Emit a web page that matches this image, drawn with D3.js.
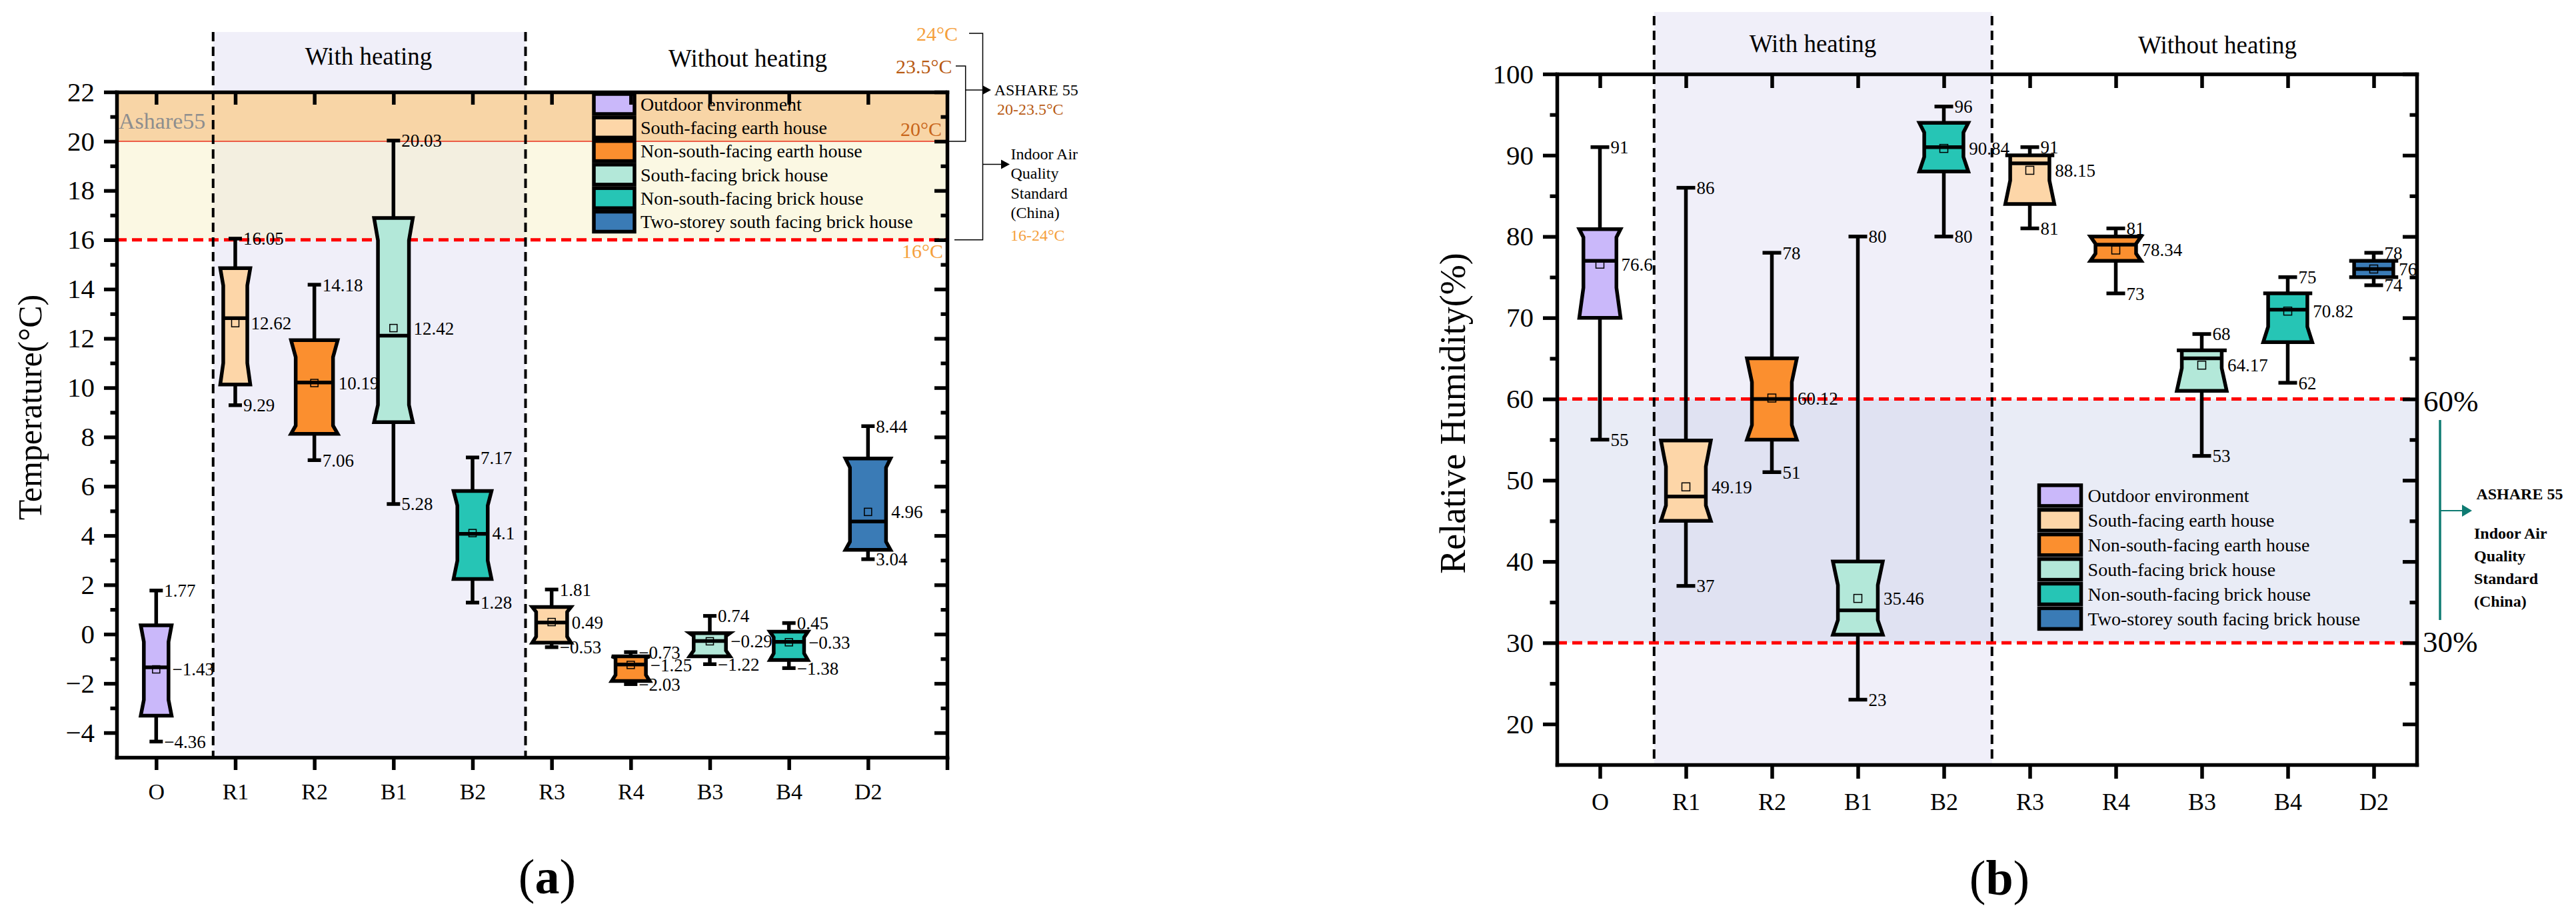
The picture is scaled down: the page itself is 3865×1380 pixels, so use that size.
<!DOCTYPE html>
<html><head><meta charset="utf-8">
<script src="https://cdn.jsdelivr.net/npm/d3@7"></script>
<style>
body{margin:0;background:#fff;}
svg{display:block;font-family:"Liberation Serif","Times New Roman",serif;}
text{font-family:"Liberation Serif","Times New Roman",serif;}
</style></head><body>
<svg id="c" width="3865" height="1380"></svg>
<script>
// ---------- data ----------
const categories = ["O","R1","R2","B1","B2","R3","R4","B3","B4","D2"];
const seriesNames = ["Outdoor environment","South-facing earth house","Non-south-facing earth house","South-facing brick house","Non-south-facing brick house","Two-storey south facing brick house"];
const categorySeries = [0,1,2,3,4,1,2,3,4,5];
const seriesColors = ["#CAB8FA","#FDD6A8","#FB8F2F","#B3E8D9","#26C5B5","#3A7BB6"];

// (a) Temperature (°C)
const tempMax     = [1.77,16.05,14.18,20.03,7.17,1.81,-0.73,0.74,0.45,8.44];
const tempQ3      = [0.36,14.85,11.93,16.89,5.81,1.10,-0.90,0.04,0.10,7.13];
const tempNotchHi = [-0.31,14.15,11.24,15.98,5.22,0.90,-0.97,-0.08,-0.13,6.76];
const tempMedian  = [-1.35,12.82,10.21,12.11,4.07,0.47,-1.23,-0.28,-0.31,4.57];
const tempNotchLo = [-2.67,11.0,8.46,9.3,2.98,-0.10,-1.66,-0.67,-0.78,3.75];
const tempQ1      = [-3.31,10.13,8.13,8.6,2.24,-0.35,-1.90,-0.90,-1.05,3.42];
const tempMin     = [-4.36,9.29,7.06,5.28,1.28,-0.53,-2.03,-1.22,-1.38,3.04];
const tempMean    = [-1.43,12.62,10.19,12.42,4.1,0.49,-1.25,-0.29,-0.33,4.96];
const tempMajorTicks = [-4,-2,0,2,4,6,8,10,12,14,16,18,20,22];
const tempMinorTicks = [-3,-1,1,3,5,7,9,11,13,15,17,19,21];

// (b) Relative humidity (%)
const humMax     = [91,86,78,80,96,91,81,68,75,78];
const humQ3      = [80.9,54.9,65,40,94,90,80,66,73,77];
const humNotchHi = [79.9,51.7,62.1,37.1,92.8,90,79.1,66,73,77];
const humMedian  = [77,48,60,34,91,89,79,65,71,76];
const humNotchLo = [73.7,46.9,56.8,32.8,89.8,86.9,77.9,63.8,68.9,75];
const humQ1      = [70,45,55,31,88,84,77,61,67,75];
const humMin     = [55,37,51,23,80,81,73,53,62,74];
const humMean    = [76.6,49.19,60.12,35.46,90.84,88.15,78.34,64.17,70.82,76];
const humMajorTicks = [20,30,40,50,60,70,80,90,100];
const humMinorTicks = [25,35,45,55,65,75,85,95];

// reference levels
const tempAshrae = [20, 23.5];
const tempChina = [16, 24];
const humLimits = [30, 60];

// styles (box widths as fraction of category step)
const tempBoxW = [0.39,0.38,0.59,0.49,0.48,0.49,0.48,0.51,0.48,0.57];
const humBoxW  = [0.48,0.58,0.58,0.58,0.57,0.57,0.59,0.58,0.57,0.57];

const fmt = d3.format(".4~g");
const svg = d3.select("#c");
const FONT = "Liberation Serif";
const SW = 5.5;

function boxPath(cx, w, n, yq3, ynh, ynl, yq1) {
  const p = d3.path();
  p.moveTo(cx - w, yq3); p.lineTo(cx + w, yq3);
  p.lineTo(cx + n, ynh); p.lineTo(cx + n, ynl);
  p.lineTo(cx + w, yq1); p.lineTo(cx - w, yq1);
  p.lineTo(cx - n, ynl); p.lineTo(cx - n, ynh);
  p.closePath();
  return p.toString();
}

function drawBoxes(g, x, y, d, cfg) {
  const step = x(1) - x(0);
  categories.forEach((c, i) => {
    const cx = x(i);
    const w = cfg.boxW[i] * step / 2;
    const n = w * 0.8;
    const col = seriesColors[categorySeries[i]];
    g.append("line").attr("x1", cx).attr("x2", cx).attr("y1", y(d.max[i])).attr("y2", y(d.q3[i]))
      .attr("stroke", "#000").attr("stroke-width", SW);
    g.append("line").attr("x1", cx).attr("x2", cx).attr("y1", y(d.q1[i])).attr("y2", y(d.min[i]))
      .attr("stroke", "#000").attr("stroke-width", SW);
    [d.max[i], d.min[i]].forEach(v => g.append("line").attr("x1", cx - cfg.capHalf).attr("x2", cx + cfg.capHalf)
      .attr("y1", y(v)).attr("y2", y(v)).attr("stroke", "#000").attr("stroke-width", SW));
    g.append("path").attr("d", boxPath(cx, w, n, y(d.q3[i]), y(d.nhi[i]), y(d.nlo[i]), y(d.q1[i])))
      .attr("fill", col).attr("stroke", "#000").attr("stroke-width", SW).attr("stroke-linejoin", "miter");
    g.append("line").attr("x1", cx - n).attr("x2", cx + n).attr("y1", y(d.med[i])).attr("y2", y(d.med[i]))
      .attr("stroke", "#000").attr("stroke-width", SW);
    const ms = cfg.marker;
    g.append("rect").attr("x", cx - ms / 2).attr("y", y(d.mean[i]) - ms / 2).attr("width", ms).attr("height", ms)
      .attr("fill", "none").attr("stroke", "#000").attr("stroke-width", 1.5);
    const lab = (xx, v) => g.append("text").attr("x", xx).attr("y", y(v)).attr("dy", "0.35em")
      .attr("font-size", cfg.labelSize).attr("font-family", FONT).text(fmt(v));
    lab(cx + cfg.capHalf + 2, d.max[i]);
    lab(cx + cfg.capHalf + 2, d.min[i]);
    lab(cx + w + 1, d.mean[i]);
  });
}

function drawAxes(g, x, y, cfg) {
  const [x0, x1] = x.range();
  const [yb, yt] = y.range();
  const style = (sel, fs) => {
    sel.attr("font-family", FONT).attr("font-size", fs);
    sel.selectAll(".domain").attr("stroke-width", SW).attr("stroke-linecap", "square");
    sel.selectAll(".tick line").attr("stroke-width", SW);
    sel.selectAll("text").attr("fill", "#000");
  };
  g.append("g").attr("transform", `translate(0,${yb})`)
    .call(d3.axisBottom(x).tickValues(cfg.xTicks).tickSize(cfg.tickLen).tickSizeOuter(0)
      .tickPadding(cfg.xPad).tickFormat(i => categories[i] || ""))
    .call(s => style(s, cfg.xFont));
  g.append("g").attr("transform", `translate(0,${yt})`)
    .call(d3.axisTop(x).tickValues(d3.range(categories.length)).tickSize(-cfg.tickLen).tickSizeOuter(0).tickFormat(""))
    .call(s => style(s, cfg.xFont));
  g.append("g").attr("transform", `translate(${x0},0)`)
    .call(d3.axisLeft(y).tickValues(cfg.major).tickSize(cfg.tickLen).tickSizeOuter(0).tickPadding(14))
    .call(s => style(s, cfg.yFont));
  g.append("g").attr("transform", `translate(${x0},0)`)
    .call(d3.axisLeft(y).tickValues(cfg.minor).tickSize(cfg.tickLen / 2).tickSizeOuter(0).tickFormat(""))
    .call(s => { style(s, cfg.yFont); s.select(".domain").remove(); });
  g.append("g").attr("transform", `translate(${x1},0)`)
    .call(d3.axisRight(y).tickValues(cfg.major).tickSize(-cfg.tickLen).tickSizeOuter(0).tickFormat(""))
    .call(s => style(s, cfg.yFont));
  g.append("g").attr("transform", `translate(${x1},0)`)
    .call(d3.axisRight(y).tickValues(cfg.minor).tickSize(-cfg.tickLen / 2).tickSizeOuter(0).tickFormat(""))
    .call(s => { style(s, cfg.yFont); s.select(".domain").remove(); });
}

function drawLegend(g, x0, yc0, pitch, sw, sh, tx, fs) {
  seriesNames.forEach((name, i) => {
    const yc = yc0 + i * pitch;
    g.append("rect").attr("x", x0).attr("y", yc - sh / 2).attr("width", sw).attr("height", sh)
      .attr("fill", seriesColors[i]).attr("stroke", "#000").attr("stroke-width", 5.5);
    g.append("text").attr("x", tx).attr("y", yc).attr("dy", "0.35em").attr("font-size", fs)
      .attr("font-family", FONT).text(name);
  });
}

function txt(g, x, y, s, fs, opt = {}) {
  const t = g.append("text").attr("x", x).attr("y", y).attr("font-size", fs).attr("font-family", FONT)
    .attr("fill", opt.fill || "#000").attr("text-anchor", opt.anchor || "start").text(s);
  if (opt.bold) t.attr("font-weight", "bold");
  return t;
}

function arrowHead(g, tipX, y, len, half, fill) {
  g.append("path").attr("d", `M${tipX},${y}L${tipX - len},${y - half}L${tipX - len},${y + half}Z`).attr("fill", fill);
}

// ================= Panel (a) =================
{
  const g = svg.append("g");
  const x = d3.scaleLinear().domain([-0.5, 10]).range([175, 1421]);
  const y = d3.scaleLinear().domain([-5, 22]).range([1136, 138]);
  const [xl, xr] = x.range();
  const heatL = x(0.72), heatR = x(4.67), heatTop = 48;

  g.append("rect").attr("x", heatL).attr("y", heatTop).attr("width", heatR - heatL).attr("height", y(-5) - heatTop).attr("fill", "#F0EFF9");
  g.append("rect").attr("x", xl).attr("width", xr - xl).attr("y", y(22)).attr("height", y(tempAshrae[0]) - y(22)).attr("fill", "#F8D5A6");
  g.append("rect").attr("x", xl).attr("width", xr - xl).attr("y", y(tempAshrae[0])).attr("height", y(tempChina[0]) - y(tempAshrae[0]))
    .attr("fill", "#F7F0C0").attr("fill-opacity", 0.45);
  g.append("line").attr("x1", xl).attr("x2", xr).attr("y1", y(tempAshrae[0])).attr("y2", y(tempAshrae[0])).attr("stroke", "#E8301C").attr("stroke-width", 1.5);
  g.append("line").attr("x1", xl).attr("x2", xr).attr("y1", y(tempChina[0])).attr("y2", y(tempChina[0])).attr("stroke", "#FF0000").attr("stroke-width", 5).attr("stroke-dasharray", "15,8");
  [heatL, heatR].forEach(v => g.append("line").attr("x1", v).attr("x2", v).attr("y1", heatTop).attr("y2", y(-5))
    .attr("stroke", "#000").attr("stroke-width", 4).attr("stroke-dasharray", "14,8"));

  txt(g, 178, 193, "Ashare55", 34, {fill: "#8E8E8E"});
  txt(g, 553, 97, "With heating", 37, {anchor: "middle"});
  txt(g, 1122, 100, "Without heating", 37, {anchor: "middle"});
  txt(g, 1413, y(tempAshrae[0]) - 8, "20°C", 30, {anchor: "end", fill: "#C8661A"});
  txt(g, 1415, y(tempChina[0]) + 27, "16°C", 30, {anchor: "end", fill: "#F5A03C"});

  drawBoxes(g, x, y, {max: tempMax, q3: tempQ3, nhi: tempNotchHi, med: tempMedian, nlo: tempNotchLo, q1: tempQ1, min: tempMin, mean: tempMean},
    {boxW: tempBoxW, capHalf: 10, marker: 11, labelSize: 27});

  drawLegend(g, 891, 156, 35.3, 61, 30, 961, 28);

  drawAxes(g, x, y, {xTicks: d3.range(11), tickLen: 19, xPad: 20, xFont: 34, yFont: 41, major: tempMajorTicks, minor: tempMinorTicks});

  g.append("text").attr("transform", "translate(47,611) rotate(-90)").attr("text-anchor", "middle").attr("dy", "0.3em")
    .attr("font-size", 50).attr("font-family", FONT).text("Temperature(°C)");

  const ann = g.append("g").attr("stroke", "#000").attr("stroke-width", 1.5).attr("fill", "none");
  ann.append("path").attr("d", `M1454,50H1474.5V${y(tempChina[0])}H1432`);
  ann.append("path").attr("d", `M1434,99H1448.7V${y(tempAshrae[0])}H1423`);
  ann.append("line").attr("x1", 1448.7).attr("x2", 1476).attr("y1", 135).attr("y2", 135);
  ann.append("line").attr("x1", 1474.5).attr("x2", 1503).attr("y1", 246.5).attr("y2", 246.5);
  arrowHead(g, 1487, 135, 12, 6.5, "#000");
  arrowHead(g, 1515, 246.5, 13, 7, "#000");

  txt(g, 1437, 61, "24°C", 30, {anchor: "end", fill: "#F5A03C"});
  txt(g, 1428.6, 109.5, "23.5°C", 30, {anchor: "end", fill: "#B85A12"});
  txt(g, 1491.7, 142.5, "ASHARE 55", 24);
  txt(g, 1496, 172, "20-23.5°C", 24, {fill: "#B85A12"});
  ["Indoor Air", "Quality", "Standard", "(China)"].forEach((s, i) => txt(g, 1516.4, 238.5 + i * 29.5, s, 24));
  txt(g, 1516, 361, "16-24°C", 24, {fill: "#F5A03C"});

  const lab = txt(g, 821, 1340, "(", 74, {anchor: "middle"});
  lab.append("tspan").attr("font-weight", "bold").text("a");
  lab.append("tspan").text(")");
}

// ================= Panel (b) =================
{
  const g = svg.append("g");
  const x = d3.scaleLinear().domain([-0.5, 9.5]).range([2336, 3626]);
  const y = d3.scaleLinear().domain([15, 100]).range([1147, 111]);
  const [xl, xr] = x.range();
  const heatL = x(0.63), heatR = x(4.56), heatTop = 18;

  g.append("rect").attr("x", heatL).attr("y", heatTop).attr("width", heatR - heatL).attr("height", y(15) - heatTop).attr("fill", "#F0EFF9");
  g.append("rect").attr("x", xl).attr("width", xr - xl).attr("y", y(humLimits[1])).attr("height", y(humLimits[0]) - y(humLimits[1]))
    .attr("fill", "rgb(200,208,233)").attr("fill-opacity", 0.4);
  humLimits.forEach(v => g.append("line").attr("x1", xl).attr("x2", xr).attr("y1", y(v)).attr("y2", y(v))
    .attr("stroke", "#FF0000").attr("stroke-width", 5).attr("stroke-dasharray", "15,8"));
  [heatL, heatR].forEach(v => g.append("line").attr("x1", v).attr("x2", v).attr("y1", heatTop + 6).attr("y2", y(15))
    .attr("stroke", "#000").attr("stroke-width", 4).attr("stroke-dasharray", "14,8"));

  txt(g, 2720, 78, "With heating", 37, {anchor: "middle"});
  txt(g, 3327, 80, "Without heating", 37, {anchor: "middle"});

  drawBoxes(g, x, y, {max: humMax, q3: humQ3, nhi: humNotchHi, med: humMedian, nlo: humNotchLo, q1: humQ1, min: humMin, mean: humMean},
    {boxW: humBoxW, capHalf: 14, marker: 12, labelSize: 27});

  drawLegend(g, 3059.5, 743.4, 36.9, 63, 31, 3132.6, 28);

  drawAxes(g, x, y, {xTicks: d3.range(10), tickLen: 21, xPad: 21, xFont: 36, yFont: 41, major: humMajorTicks, minor: humMinorTicks});

  g.append("text").attr("transform", "translate(2182,620) rotate(-90)").attr("text-anchor", "middle").attr("dy", "0.3em")
    .attr("font-size", 54).attr("font-family", FONT).text("Relative Humidity(%)");

  txt(g, 3636, y(humLimits[1]) + 18, "60%", 45);
  txt(g, 3635, y(humLimits[0]) + 14, "30%", 45);

  g.append("line").attr("x1", 3661).attr("x2", 3661).attr("y1", 630).attr("y2", 930).attr("stroke", "#0F7B72").attr("stroke-width", 3.5);
  g.append("line").attr("x1", 3661).attr("x2", 3696).attr("y1", 766).attr("y2", 766).attr("stroke", "#0F7B72").attr("stroke-width", 2);
  arrowHead(g, 3709, 766, 15, 9, "#0F7B72");

  txt(g, 3715.4, 748.6, "ASHARE 55", 24, {bold: true});
  ["Indoor Air", "Quality", "Standard", "(China)"].forEach((s, i) => txt(g, 3712, 807.5 + i * 34.3, s, 24, {bold: true}));

  const lab = txt(g, 3000, 1342, "(", 74, {anchor: "middle"});
  lab.append("tspan").attr("font-weight", "bold").text("b");
  lab.append("tspan").text(")");
}
</script>
</body></html>
